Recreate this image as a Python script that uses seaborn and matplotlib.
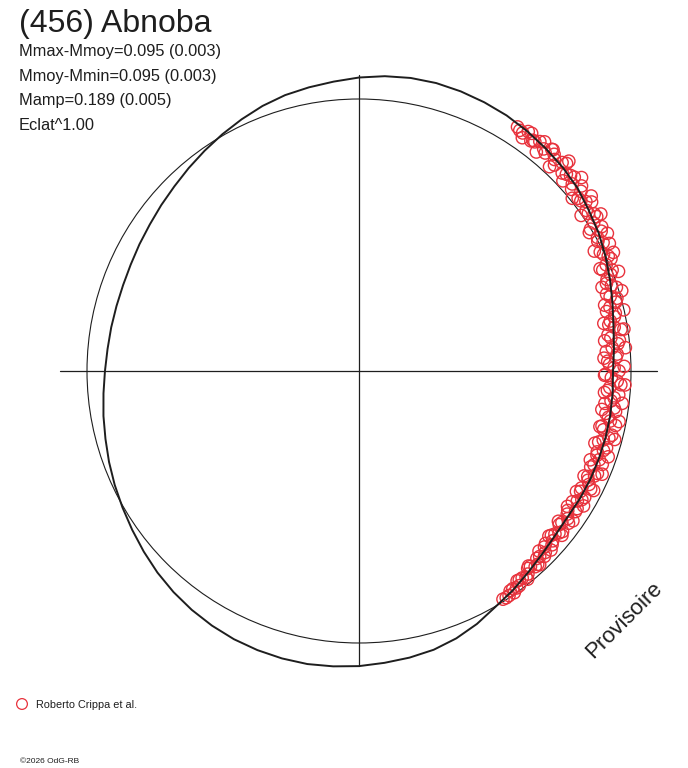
import numpy as np
import pandas as pd
import matplotlib
matplotlib.use("Agg")
import matplotlib.pyplot as plt
import seaborn as sns

#title and stats
title = "(456) Abnoba"
stat_lines = ["Mmax-Mmoy=0.095 (0.003)", "Mmoy-Mmin=0.095 (0.003)", "Mamp=0.189 (0.005)", "Eclat^1.00"]
legend_label = "Roberto Crippa et al."
credit = "\u00a92026 OdG-RB"
stamp = "Provisoire"

#model lightcurve, relative flux every 5 deg of polar angle
curve_angle = list(range(0, 360, 5))
curve_flux = [0.934, 0.941, 0.950, 0.965, 0.982, 1.000, 1.017, 1.031, 1.048, 1.059, 1.068, 1.077,
              1.085, 1.090, 1.094, 1.096, 1.094, 1.088, 1.079, 1.068, 1.059, 1.050, 1.037, 1.021,
              1.005, 0.989, 0.974, 0.960, 0.949, 0.939, 0.932, 0.926, 0.923, 0.923, 0.925, 0.928,
              0.934, 0.943, 0.954, 0.965, 0.978, 0.991, 1.004, 1.018, 1.033, 1.048, 1.061, 1.072,
              1.081, 1.088, 1.092, 1.094, 1.094, 1.090, 1.085, 1.077, 1.070, 1.061, 1.046, 1.026,
              1.002, 0.985, 0.967, 0.952, 0.941, 0.936, 0.938, 0.939, 0.939, 0.939, 0.938, 0.936]

#observations (polar angle in deg, relative flux)
obs_angle = [57, 55.5, 54, 52.5, 51, 49.5, 48, 46.5, 45, 43.5, 42, 40.5, 39, 37.5, 36, 34.5,
             33, 31.5, 30, 28.5, 27, 25.5, 24, 22.5, 21, 19.5, 18, 16.5, 15, 13.5, 12, 10.5,
             9, 7.5, 6, 4.5, 3, 1.5, 0, -1.5, -3, -4.5, -6, -7.5, -9, -10.5, -12, -13.5,
             -15, -16.5, -18, -19.5, -21, -22.5, -24, -25.5, -27, -28.5, -30, -31.5, -33, -34.5,
             -36, -37.5, -39, -40.5, -42, -43.5, -45, -46.5, -48, -49.5, -51, -52.5, -54, -55.5, -57,
             56.25, 54.75, 53.25, 51.75, 50.25, 48.75, 47.25, 45.75, 44.25, 42.75, 41.25, 39.75,
             38.25, 36.75, 35.25, 33.75, 32.25, 30.75, 29.25, 27.75, 26.25, 24.75, 23.25, 21.75,
             20.25, 18.75, 17.25, 15.75, 14.25, 12.75, 11.25, 9.75, 8.25, 6.75, 5.25, 3.75,
             2.25, 0.75, -0.75, -2.25, -3.75, -5.25, -6.75, -8.25, -9.75, -11.25, -12.75, -14.25,
             -15.75, -17.25, -18.75, -20.25, -21.75, -23.25, -24.75, -26.25, -27.75, -29.25, -30.75, -32.25,
             -33.75, -35.25, -36.75, -38.25, -39.75, -41.25, -42.75, -44.25, -45.75, -47.25, -48.75, -50.25,
             -51.75, -53.25, -54.75, -56.25, -57.75,
             55, 53, 51, 49, 47, 45, 43, 41, 39, 37, 35, 33, 31, 29, 27, 25, 23, 21, 19, 17,
             15, 13, 11, 9, 7, 5, 3, 1, -1, -3, -5, -7, -9, -11, -13, -15, -17, -19, -21, -23,
             -25, -27, -29, -31, -33, -35, -37, -39, -41, -43, -45, -47, -49, -51, -53, -55]
obs_flux = [1.070, 1.062, 1.080, 1.062, 1.084, 1.054, 1.072, 1.044, 1.079, 1.051, 1.065, 1.028, 1.050, 1.028, 1.057, 1.023,
            1.042, 0.998, 1.028, 0.999, 1.033, 0.996, 1.014, 0.970, 0.991, 0.965, 0.995, 0.963, 0.977, 0.936, 0.960, 0.934,
            0.975, 0.934, 0.957, 0.912, 0.946, 0.921, 0.956, 0.928, 0.964, 0.916, 0.943, 0.912, 0.955, 0.933, 0.964, 0.925,
            0.951, 0.919, 0.945, 0.928, 0.958, 0.922, 0.948, 0.933, 0.956, 0.927, 0.946, 0.920, 0.949, 0.929,
            0.952, 0.928, 0.946, 0.930, 0.955, 0.940, 0.964, 0.950, 0.968, 0.955, 0.976, 0.968, 0.986, 0.981, 0.994,
            1.064, 1.078, 1.056, 1.074, 1.062, 1.082, 1.059, 1.070, 1.043, 1.059, 1.043, 1.064,
            1.026, 1.041, 1.023, 1.040, 1.020, 1.038, 1.005, 1.014, 0.989, 1.009, 0.989, 1.002,
            0.972, 0.980, 0.953, 0.985, 0.952, 0.966, 0.942, 0.952, 0.925, 0.964, 0.935, 0.951,
            0.915, 0.938, 0.906, 0.950, 0.924, 0.959, 0.933, 0.948, 0.921, 0.942, 0.916, 0.959,
            0.933, 0.953, 0.925, 0.942, 0.930, 0.954, 0.926, 0.943, 0.924, 0.951, 0.934, 0.948,
            0.923, 0.940, 0.931, 0.953, 0.937, 0.947, 0.934, 0.956, 0.952, 0.968, 0.956, 0.971,
            0.969, 0.985, 0.980, 0.993, 0.992,
            1.047, 1.062, 1.036, 1.080, 1.027, 1.091, 1.025, 1.084, 1.009, 1.069, 0.997, 1.060, 0.988, 1.044, 0.971, 1.032,
            0.963, 1.022, 0.945, 1.010, 0.935, 0.999, 0.917, 0.986, 0.910, 0.983, 0.902, 0.975, 0.903, 0.979, 0.906, 0.975,
            0.904, 0.974, 0.909, 0.973, 0.907, 0.969, 0.911, 0.971, 0.913, 0.968, 0.914, 0.963, 0.914, 0.960, 0.918, 0.960,
            0.925, 0.965, 0.936, 0.974, 0.950, 0.985, 0.966, 0.995]

#---
#polar -> cartesian
t = np.radians(np.append(curve_angle, curve_angle[0]))
r = np.append(curve_flux, curve_flux[0])
curveDf = pd.DataFrame({"x": r * np.cos(t), "y": r * np.sin(t)})

to = np.radians(obs_angle)
obsDf = pd.DataFrame({"x": np.array(obs_flux) * np.cos(to), "y": np.array(obs_flux) * np.sin(to)})
#---

sns.set_style("white")
plt.rcParams["font.family"] = ["Liberation Sans", "DejaVu Sans"]

W, H = 688, 768
cx, cy, scale = 359, 371, 272  # centre and unit radius, pixels
fig = plt.figure(figsize=(W / 100, H / 100), dpi=100)
ax = fig.add_axes([0, 0, 1, 1])
ax.set_xlim(-cx / scale, (W - cx) / scale)
ax.set_ylim(-(H - cy) / scale, cy / scale)
ax.axis("off")

ink = "#1e1e1e"
red = "#e8323c"

#cross and mean-flux circle
ax.plot([-1.099, 1.096], [0, 0], color=ink, lw=0.9)
ax.plot([0, 0], [-1.085, 1.088], color=ink, lw=0.9)
ax.add_patch(plt.Circle((0, 0), 1.0, fill=False, color=ink, lw=0.8))

#observations and model
sns.scatterplot(data=obsDf, x="x", y="y", ax=ax, marker="o", s=78,
                facecolors="none", edgecolor=red, linewidth=1.0, zorder=3)
sns.lineplot(data=curveDf, x="x", y="y", ax=ax, sort=False, estimator=None,
             color=ink, lw=1.4, zorder=4)

#texts
def px(x, y):
    return x / W, 1 - y / H

fig.text(*px(19, 32), title, fontsize=23, color=ink, va="baseline")
for i, line in enumerate(stat_lines):
    fig.text(*px(19, 56 + i * 24.5), line, fontsize=11.8, color=ink, va="baseline")

fig.text(*px(624, 620), stamp, fontsize=16, color=ink, rotation=45,
         ha="center", va="center", rotation_mode="anchor")

ax.scatter([(22 - cx) / scale], [-(704 - cy) / scale], s=60, facecolors="none",
           edgecolors=red, linewidths=0.9)
fig.text(*px(36, 705), legend_label, fontsize=7.8, color=ink, va="center")
fig.text(*px(20, 763), credit, fontsize=6, color=ink, va="baseline")

plt.savefig("out.png", dpi=100)
